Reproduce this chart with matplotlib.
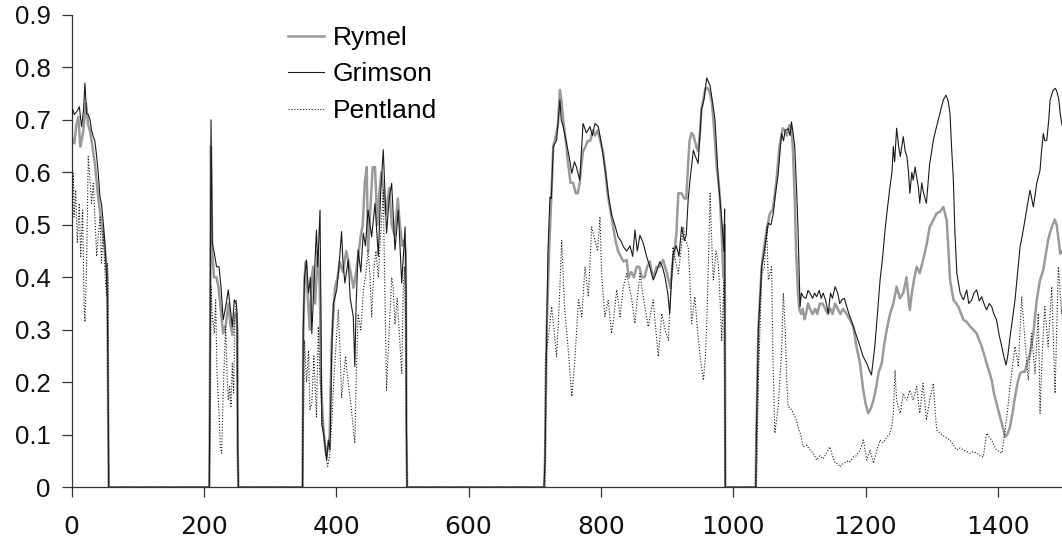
import matplotlib
matplotlib.use("Agg")
import matplotlib.pyplot as plt

# ---- data (x = frame, y = score) ----
rymel_x = [0, 1.5, 4, 7, 10, 13, 15, 17.6, 21.6, 25, 27.5, 30, 35, 40, 45, 50, 52, 54, 55, 56,
           208, 209, 210.5, 212.5, 215, 219, 222, 226, 229, 233, 237, 240, 243, 246, 249, 250.5, 251, 252,
           349, 350, 352, 354, 357, 360, 363, 365, 368, 370, 372, 375, 377, 380, 383, 385, 388, 390, 393,
           398, 402, 405, 410, 415, 420, 426, 430, 434, 437, 440, 443, 446, 448, 451, 455, 458.5, 462, 465,
           468, 471, 475, 478, 480, 484, 488, 491, 493, 496, 500, 503, 505, 506, 507,
           714, 715.5, 718, 722, 725, 728, 732, 735, 738, 740, 743, 747, 750, 754, 758, 762, 765, 768, 771,
           773, 777, 780, 784, 788, 791, 795, 799, 803, 807, 810, 814, 818, 822, 826, 830, 834, 839, 842,
           846, 850, 854, 858, 862, 866, 870, 874, 877, 880, 884, 889, 894, 897, 900, 905, 908, 910, 914,
           917, 920, 922, 926, 929, 932, 934, 937, 940, 944, 947, 950, 952, 955, 958, 962, 965, 968, 970,
           973, 975, 978, 980, 983, 985, 987, 988,
           1034, 1035, 1038, 1043, 1048, 1052, 1055, 1060, 1065, 1070, 1073, 1075, 1078, 1081, 1085, 1088,
           1090, 1093, 1095, 1098, 1100, 1103, 1105, 1108, 1110, 1113, 1116, 1120, 1124, 1127, 1131, 1135,
           1139, 1143, 1147, 1150, 1154, 1158, 1162, 1166, 1171.6, 1176, 1181.6, 1186, 1191.7, 1196, 1200,
           1204, 1208, 1212, 1216, 1220, 1224.5, 1228, 1232, 1237, 1242, 1247, 1252, 1257, 1262, 1265, 1267,
           1270, 1274, 1277.4, 1282, 1287, 1292, 1297, 1302.5, 1307.6, 1312.6, 1317.6, 1322.7, 1325, 1327.7,
           1333, 1340.4, 1348, 1353, 1358.3, 1363, 1368, 1372, 1375.6, 1380, 1383, 1387, 1390.8, 1394, 1398,
           1402, 1406, 1411, 1414, 1418.5, 1422, 1426, 1430, 1433.6, 1437, 1441, 1445, 1448.7, 1453.7,
           1458.8, 1463.8, 1468.8, 1472, 1476, 1480, 1484, 1486, 1489, 1492, 1494.3, 1497, 1500]
rymel_y = [0.67, 0.661, 0.655, 0.69, 0.706, 0.649, 0.66, 0.68, 0.731, 0.69, 0.68, 0.661, 0.617, 0.553,
           0.503, 0.458, 0.43, 0.40, 0.16, 0,
           0, 0.2, 0.65, 0.45, 0.40, 0.40, 0.38, 0.33, 0.293, 0.31, 0.35, 0.31, 0.29, 0.33, 0.33, 0.30, 0.07, 0,
           0, 0.28, 0.40, 0.43, 0.36, 0.30, 0.40, 0.42, 0.35, 0.40, 0.45, 0.38, 0.20, 0.12, 0.08, 0.06, 0.08,
           0.10, 0.28, 0.38, 0.40, 0.43, 0.41, 0.45, 0.42, 0.38, 0.41, 0.45, 0.48, 0.50, 0.58, 0.61, 0.45,
           0.52, 0.61, 0.61, 0.50, 0.56, 0.60, 0.57, 0.52, 0.55, 0.57, 0.50, 0.48, 0.52, 0.55, 0.50, 0.46,
           0.47, 0.45, 0.11, 0,
           0, 0.05, 0.30, 0.46, 0.55, 0.65, 0.67, 0.69, 0.757, 0.74, 0.70, 0.66, 0.62, 0.58, 0.58, 0.56,
           0.56, 0.58, 0.62, 0.64, 0.65, 0.66, 0.66, 0.68, 0.67, 0.68, 0.66, 0.64, 0.60, 0.56, 0.53, 0.50,
           0.47, 0.45, 0.44, 0.43, 0.433, 0.40, 0.41, 0.40, 0.42, 0.42, 0.40, 0.40, 0.42, 0.43, 0.41, 0.40,
           0.42, 0.42, 0.433, 0.42, 0.407, 0.38, 0.42, 0.44, 0.48, 0.56, 0.56, 0.56, 0.55, 0.55, 0.62, 0.66,
           0.675, 0.67, 0.65, 0.64, 0.68, 0.72, 0.74, 0.76, 0.76, 0.75, 0.73, 0.70, 0.65, 0.61, 0.58, 0.55,
           0.47, 0.40, 0.50, 0,
           0, 0.10, 0.30, 0.42, 0.47, 0.50, 0.52, 0.53, 0.58, 0.65, 0.67, 0.684, 0.68, 0.67, 0.69, 0.68,
           0.65, 0.55, 0.45, 0.37, 0.338, 0.33, 0.34, 0.32, 0.33, 0.35, 0.34, 0.33, 0.34, 0.33, 0.35, 0.35,
           0.34, 0.33, 0.34, 0.33, 0.35, 0.34, 0.33, 0.34, 0.33, 0.32, 0.306, 0.27, 0.236, 0.19, 0.16,
           0.141, 0.15, 0.166, 0.19, 0.22, 0.236, 0.27, 0.30, 0.33, 0.35, 0.382, 0.36, 0.37, 0.40, 0.36, 0.338,
           0.37, 0.40, 0.42, 0.408, 0.433, 0.46, 0.496, 0.509, 0.522, 0.525, 0.534, 0.509, 0.46, 0.395,
           0.357, 0.344, 0.319, 0.315, 0.306, 0.30, 0.293, 0.28, 0.268, 0.25, 0.236, 0.22, 0.204, 0.18, 0.16,
           0.14, 0.122, 0.096, 0.10, 0.115, 0.14, 0.173, 0.20, 0.217, 0.22, 0.22, 0.24, 0.255, 0.293,
           0.357, 0.395, 0.414, 0.44, 0.471, 0.49, 0.503, 0.51, 0.50, 0.47, 0.445, 0.45, 0.44]

grimson_x = [0, 1.5, 4, 7.5, 11.5, 15, 18, 20, 22.6, 25, 27.7, 30, 32.7, 35, 37.8, 40, 42.8, 45, 47.8,
             50, 51.8, 53.8, 55, 56,
             208, 209, 210.6, 212.6, 215.6, 219, 222.7, 225.7, 229, 232.8, 236.8, 239.8, 242.8, 245.8,
             248.8, 250, 251, 252,
             349, 350, 352, 355, 358, 361, 363, 366, 370, 372, 375.4, 377, 378, 381, 385.5, 388, 390.5, 393,
             395.5, 400.6, 404, 408, 410, 413, 418, 421, 425.7, 428, 430, 433, 437, 440.8, 444, 448, 453.5,
             458.5, 463.5, 467, 471, 476, 480, 483.7, 488.7, 493.7, 498.9, 504, 505.5, 506, 507,
             714, 715.5, 718, 720, 723, 725, 728, 733, 738, 740, 743, 748, 752, 756, 760, 763, 768, 773, 778,
             783.5, 787, 791, 796, 800, 803.6, 808.6, 812, 816, 821, 826, 830, 834, 839, 844, 848, 851.5, 855,
             859, 864, 869, 874, 879, 884, 889, 893, 897, 901, 904, 909, 914, 918, 922, 926, 929, 932, 934.7,
             939.7, 943, 947, 952, 956, 960, 965, 968, 972.5, 977.5, 982.6, 986, 987, 988,
             1034, 1035, 1038, 1043, 1048, 1053, 1057, 1060.6, 1064, 1068, 1073, 1076, 1078.6, 1083, 1086,
             1088, 1090, 1093, 1096, 1098, 1101, 1103, 1106, 1110, 1113, 1116, 1120, 1123, 1126, 1130, 1133,
             1136, 1140, 1143.7, 1147, 1150, 1154, 1158, 1161, 1164, 1168, 1171.6, 1175, 1178, 1181.6, 1186,
             1191.7, 1196, 1201.8, 1205, 1209, 1214, 1218, 1222, 1226, 1229.5, 1233, 1237, 1240, 1242, 1244,
             1247, 1250, 1252.6, 1257, 1260, 1262.6, 1265, 1267, 1270, 1272, 1275, 1277.4, 1280, 1282, 1285,
             1287, 1290, 1292, 1294.5, 1297, 1300, 1302.5, 1306, 1310, 1314, 1317.6, 1321.7, 1325, 1327.7,
             1330, 1332.8, 1335, 1338, 1343, 1348, 1353, 1356, 1360.5, 1364, 1368, 1372, 1375.6, 1379, 1383,
             1387, 1390.8, 1394, 1398, 1402, 1406, 1409, 1412.4, 1415, 1418.5, 1422, 1426, 1430, 1433.6, 1437,
             1441, 1445, 1448.7, 1453.7, 1458.8, 1463.8, 1466, 1468.8, 1471, 1474, 1477, 1479, 1482, 1484,
             1487, 1489, 1492, 1494.3, 1497, 1500]
grimson_y = [0.70, 0.72, 0.71, 0.715, 0.725, 0.687, 0.72, 0.77, 0.712, 0.71, 0.70, 0.68, 0.668, 0.66,
             0.63, 0.60, 0.553, 0.54, 0.503, 0.47, 0.427, 0.363, 0.16, 0,
             0, 0.2, 0.70, 0.465, 0.446, 0.42, 0.42, 0.382, 0.319, 0.344, 0.376, 0.34, 0.306, 0.357, 0.35,
             0.33, 0.07, 0,
             0, 0.30, 0.40, 0.433, 0.37, 0.40, 0.293, 0.38, 0.49, 0.42, 0.528, 0.30, 0.12, 0.10, 0.052, 0.09,
             0.071, 0.25, 0.35, 0.376, 0.42, 0.487, 0.43, 0.389, 0.433, 0.36, 0.325, 0.23, 0.35, 0.452, 0.41,
             0.484, 0.46, 0.528, 0.477, 0.541, 0.44, 0.56, 0.643, 0.484, 0.55, 0.579, 0.452, 0.528, 0.389,
             0.496, 0.37, 0.115, 0,
             0, 0.05, 0.30, 0.45, 0.553, 0.55, 0.649, 0.661, 0.738, 0.70, 0.687, 0.655, 0.63, 0.598, 0.62,
             0.61, 0.585, 0.693, 0.675, 0.687, 0.67, 0.693, 0.687, 0.66, 0.63, 0.585, 0.55, 0.52, 0.50, 0.477,
             0.47, 0.458, 0.45, 0.46, 0.44, 0.49, 0.45, 0.48, 0.465, 0.44, 0.42, 0.395, 0.41, 0.43, 0.42,
             0.40, 0.37, 0.331, 0.445, 0.46, 0.44, 0.496, 0.47, 0.48, 0.55, 0.585, 0.642, 0.63, 0.617, 0.719,
             0.74, 0.78, 0.765, 0.74, 0.70, 0.585, 0.51, 0.45, 0.53, 0,
             0, 0.10, 0.30, 0.42, 0.458, 0.503, 0.50, 0.522, 0.56, 0.598, 0.674, 0.66, 0.68, 0.683, 0.67,
             0.696, 0.68, 0.649, 0.56, 0.49, 0.344, 0.37, 0.363, 0.36, 0.375, 0.37, 0.36, 0.37, 0.363, 0.375,
             0.36, 0.37, 0.355, 0.331, 0.37, 0.36, 0.382, 0.37, 0.35, 0.357, 0.36, 0.344, 0.33, 0.32, 0.306,
             0.29, 0.268, 0.25, 0.236, 0.225, 0.214, 0.268, 0.33, 0.395, 0.44, 0.49, 0.53, 0.573, 0.60, 0.649,
             0.62, 0.684, 0.65, 0.63, 0.668, 0.64, 0.63, 0.60, 0.56, 0.60, 0.585, 0.61, 0.59, 0.57, 0.541,
             0.58, 0.565, 0.55, 0.541, 0.58, 0.617, 0.64, 0.661, 0.68, 0.70, 0.72, 0.738, 0.747, 0.735, 0.712,
             0.65, 0.585, 0.49, 0.408, 0.37, 0.357, 0.376, 0.35, 0.357, 0.37, 0.376, 0.355, 0.363, 0.35, 0.338,
             0.35, 0.344, 0.33, 0.319, 0.29, 0.268, 0.25, 0.233, 0.25, 0.287, 0.32, 0.357, 0.41, 0.458, 0.48,
             0.509, 0.54, 0.566, 0.534, 0.579, 0.604, 0.64, 0.674, 0.66, 0.661, 0.70, 0.738, 0.75, 0.757,
             0.76, 0.755, 0.74, 0.712, 0.69, 0.68]

pentland_x = [0, 2.5, 3.5, 6, 8.5, 11.5, 13.5, 16.6, 18.6, 20, 22.6, 25, 27.7, 30, 32.7, 35, 37.8, 40,
              42.8, 45, 47.8, 50, 52.8, 54, 55, 56,
              208, 209, 209.5, 210.6, 212.6, 215.6, 217.6, 219.7, 222.7, 224.7, 226.7, 228.7, 230.7, 232.8,
              234.8, 236.8, 238.8, 240.8, 242.8, 244.8, 246.8, 248.8, 250, 251, 252,
              349, 350, 352, 355, 358, 360, 363, 366, 370, 372.8, 375, 378, 381, 384, 387, 390, 393, 396, 400,
              403, 406, 408, 411, 414, 418, 421, 425, 428, 430, 433, 437, 441, 444, 448, 451, 453.5, 457, 460,
              463.5, 467, 471, 473, 476, 480, 483.7, 486, 488.7, 492, 495, 498.9, 501, 503, 505, 506, 507,
              714, 715.5, 716, 720, 725.6, 729, 733, 737, 740.7, 745, 750.7, 756, 761, 766, 771, 776, 781, 786,
              791, 795, 798.6, 801, 806, 811, 816, 820, 824, 829, 834, 839, 843, 846, 851.5, 855, 859, 863,
              866.5, 871.5, 875, 879, 883, 886.8, 892, 897, 902, 905, 909, 913, 917, 921, 924.5, 928, 932, 935,
              937, 942, 946, 950, 955, 958, 960, 963, 965, 968, 970, 974, 977.5, 980, 982.6, 985, 986, 987, 988,
              1034, 1035, 1038, 1043, 1047, 1050.6, 1053, 1058, 1060, 1063, 1068, 1073, 1075.8, 1078.6, 1081,
              1083, 1087, 1091, 1095, 1098, 1102, 1106, 1111, 1116, 1121, 1126, 1131, 1136, 1141, 1146, 1150,
              1154, 1158, 1161.5, 1166, 1171.6, 1176, 1181.6, 1186, 1191.7, 1196.7, 1201.8, 1206.8, 1212,
              1217, 1222, 1227, 1232, 1236, 1239.6, 1242, 1244.6, 1247, 1250, 1252.6, 1257, 1260, 1262.6, 1267,
              1272, 1277.4, 1282, 1287, 1292, 1297, 1302.5, 1305, 1307.6, 1312.6, 1320, 1327.7, 1333, 1338,
              1343, 1348, 1353, 1358.3, 1363, 1368, 1373, 1378, 1383, 1387, 1390.8, 1394, 1398, 1402, 1406,
              1411, 1415, 1418.5, 1422, 1426, 1431, 1436, 1441, 1446, 1451, 1456.2, 1461.2, 1463.8, 1467, 1471,
              1476, 1481.5, 1486.5, 1491.5, 1496.5, 1500]
pentland_y = [0.52, 0.598, 0.515, 0.566, 0.465, 0.541, 0.44, 0.528, 0.35, 0.315, 0.427, 0.63, 0.585,
              0.541, 0.579, 0.515, 0.44, 0.477, 0.515, 0.427, 0.49, 0.414, 0.363, 0.427, 0.37, 0,
              0, 0.077, 0.217, 0.382, 0.325, 0.293, 0.357, 0.217, 0.141, 0.077, 0.065, 0.166, 0.242, 0.306,
              0.217, 0.166, 0.192, 0.154, 0.236, 0.18, 0.325, 0.357, 0.29, 0.07, 0,
              0, 0.10, 0.28, 0.20, 0.26, 0.147, 0.16, 0.25, 0.134, 0.306, 0.22, 0.15, 0.10, 0.06, 0.04, 0.06,
              0.12, 0.20, 0.28, 0.338, 0.25, 0.17, 0.21, 0.25, 0.198, 0.17, 0.12, 0.084, 0.20, 0.33, 0.30,
              0.376, 0.40, 0.452, 0.40, 0.325, 0.42, 0.45, 0.40, 0.48, 0.566, 0.40, 0.185, 0.30, 0.40, 0.38,
              0.31, 0.36, 0.30, 0.217, 0.37, 0.42, 0.30, 0.10, 0,
              0, 0.0, 0.242, 0.28, 0.344, 0.30, 0.249, 0.35, 0.471, 0.344, 0.26, 0.173, 0.25, 0.357, 0.325,
              0.42, 0.363, 0.496, 0.47, 0.45, 0.515, 0.407, 0.325, 0.357, 0.293, 0.33, 0.376, 0.325, 0.382,
              0.407, 0.38, 0.363, 0.312, 0.36, 0.407, 0.37, 0.344, 0.306, 0.33, 0.357, 0.30, 0.249, 0.331,
              0.30, 0.28, 0.36, 0.458, 0.43, 0.407, 0.45, 0.496, 0.47, 0.458, 0.38, 0.312, 0.363, 0.30, 0.249,
              0.204, 0.25, 0.312, 0.45, 0.56, 0.45, 0.395, 0.45, 0.427, 0.36, 0.28, 0.36, 0.395, 0.2, 0,
              0, 0.0, 0.20, 0.408, 0.42, 0.496, 0.395, 0.42, 0.25, 0.103, 0.154, 0.255, 0.37, 0.30, 0.20,
              0.154, 0.15, 0.141, 0.13, 0.115, 0.10, 0.077, 0.08, 0.071, 0.065, 0.052, 0.06, 0.054, 0.065,
              0.077, 0.06, 0.046, 0.045, 0.039, 0.045, 0.05, 0.048, 0.058, 0.06, 0.071, 0.09, 0.052, 0.071,
              0.046, 0.07, 0.09, 0.085, 0.096, 0.10, 0.115, 0.14, 0.223, 0.166, 0.15, 0.141, 0.179, 0.17,
              0.166, 0.185, 0.166, 0.192, 0.141, 0.198, 0.128, 0.166, 0.198, 0.15, 0.109, 0.103, 0.096, 0.09,
              0.08, 0.071, 0.075, 0.071, 0.068, 0.065, 0.068, 0.065, 0.06, 0.058, 0.103, 0.095, 0.09, 0.08,
              0.071, 0.068, 0.065, 0.109, 0.15, 0.192, 0.23, 0.268, 0.23, 0.363, 0.28, 0.204, 0.293, 0.217,
              0.331, 0.141, 0.25, 0.344, 0.268, 0.382, 0.179, 0.42, 0.33, 0.42]

x_ticks = [0, 200, 400, 600, 800, 1000, 1200, 1400]
x_tick_labels = ["0", "200", "400", "600", "800", "1000", "1200", "1400"]
y_ticks = [0, 0.1, 0.2, 0.3, 0.4, 0.5, 0.6, 0.7, 0.8, 0.9]
y_tick_labels = ["0", "0.1", "0.2", "0.3", "0.4", "0.5", "0.6", "0.7", "0.8", "0.9"]

# ---- figure ----
fig = plt.figure(figsize=(10.62, 5.43), dpi=100)
ax = fig.add_axes([0.0675, 0.1026, 0.9325, 0.8701])

ax.plot(rymel_x, rymel_y, color="#9a9a9a", lw=1.8, label="Rymel", zorder=2)
ax.plot(grimson_x, grimson_y, color="#1a1a1a", lw=0.8, label="Grimson", zorder=3)
ax.plot(pentland_x, pentland_y, color="#1a1a1a", lw=0.8, ls=(0, (1, 1.6)), label="Pentland", zorder=4)

ax.set_xlim(0, 1497)
ax.set_ylim(0, 0.9)
ax.set_xticks(x_ticks)
ax.set_xticklabels(x_tick_labels, fontfamily="DejaVu Sans", fontsize=18)
ax.set_yticks(y_ticks)
ax.set_yticklabels(y_tick_labels, fontfamily="Liberation Sans", fontsize=18.5)

ax.spines["top"].set_visible(False)
ax.spines["right"].set_visible(False)
for s in ("left", "bottom"):
    ax.spines[s].set_color("#333333")
    ax.spines[s].set_linewidth(0.9)
ax.tick_params(axis="both", direction="out", length=7, width=0.9, color="#333333", labelcolor="#111111")
ax.tick_params(axis="x", pad=13)
ax.tick_params(axis="y", pad=8)

leg = ax.legend(loc="upper left", bbox_to_anchor=(288 / 1062, 1 - 26 / 543),
                bbox_transform=fig.transFigure, frameon=False, borderpad=0, borderaxespad=0,
                handlelength=1.36, handletextpad=0.34, labelspacing=0.47,
                prop={"family": "Liberation Sans", "size": 19})

fig.savefig("out.png", dpi=100)
